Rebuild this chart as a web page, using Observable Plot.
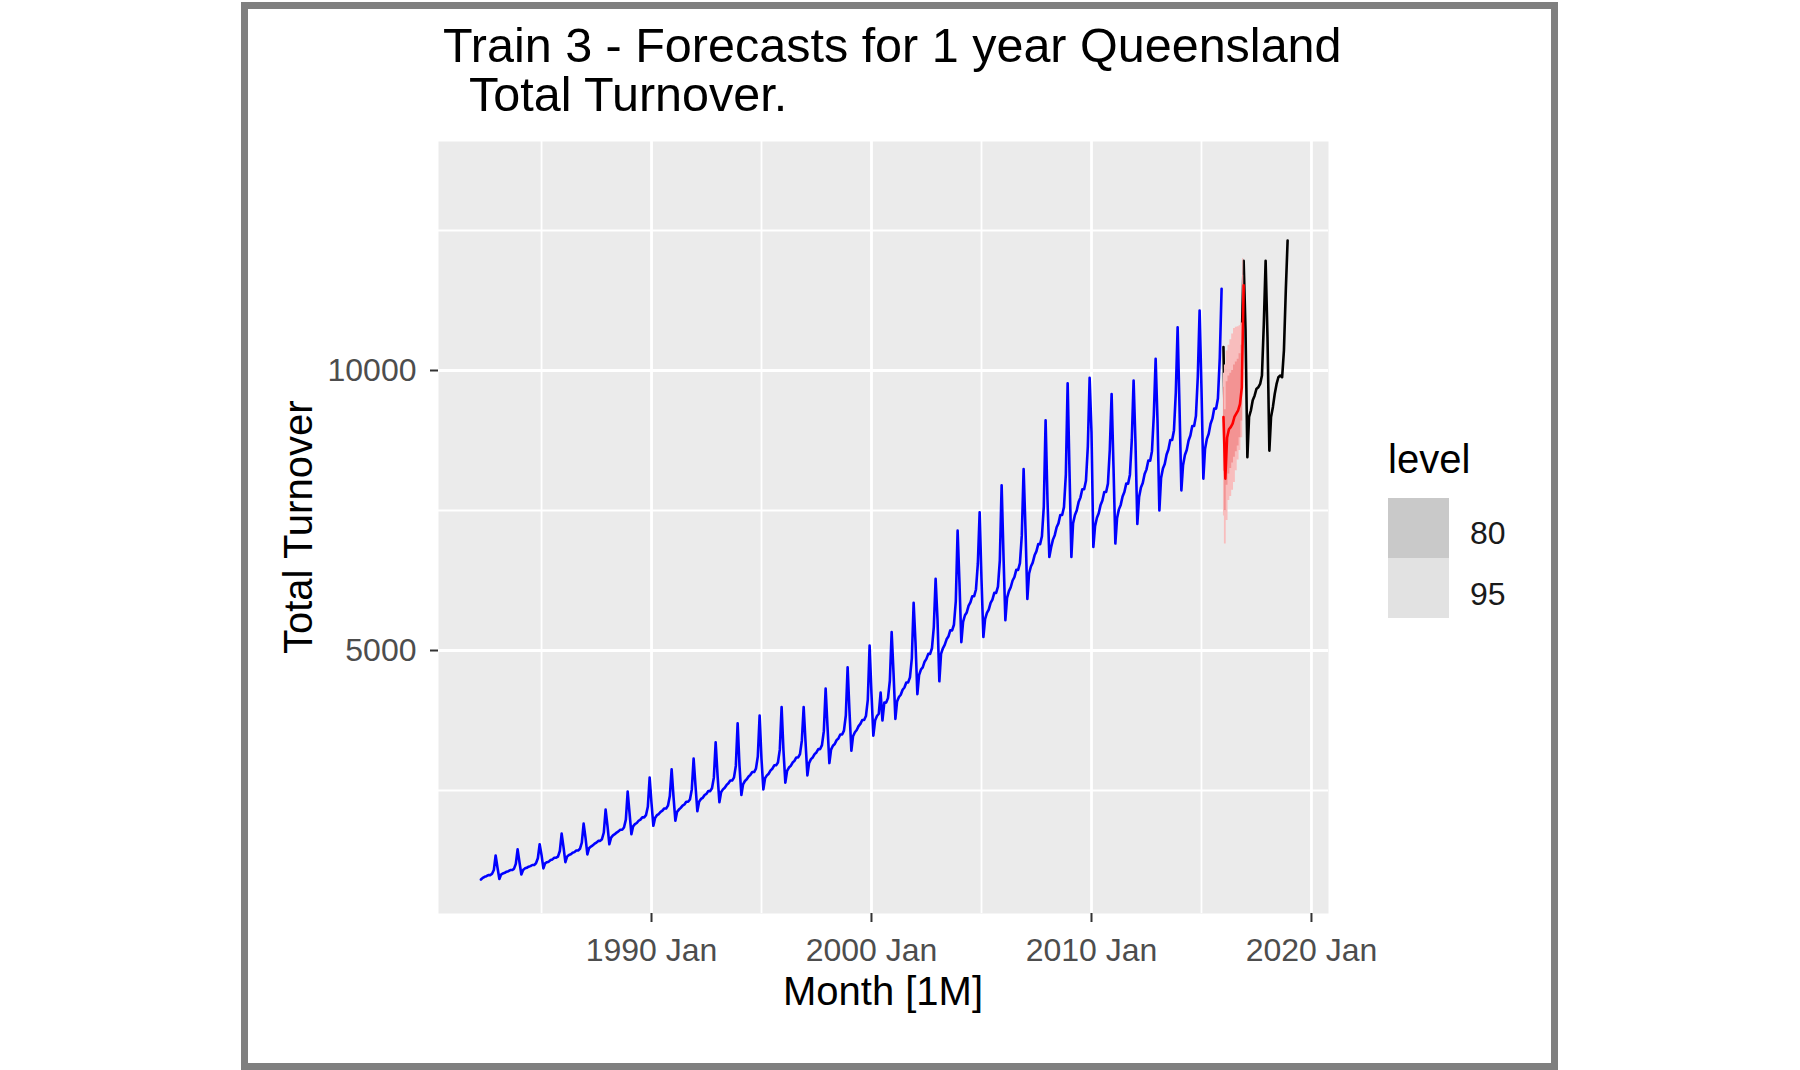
<!DOCTYPE html>
<html>
<head>
<meta charset="utf-8">
<script src="https://cdn.jsdelivr.net/npm/d3@7"></script>
<script src="https://cdn.jsdelivr.net/npm/@observablehq/plot@0.6"></script>
<style>
html, body { margin: 0; padding: 0; background: #ffffff; width: 1800px; height: 1070px; overflow: hidden; font-family: "Liberation Sans", Arial, sans-serif; }
#frame { position: absolute; left: 241px; top: 2px; width: 1317px; height: 1068px; box-sizing: border-box; border: 7px solid #7f7f7f; }
.txt { position: absolute; white-space: pre; color: #000; }
#title { left: 443px; top: 21px; font-size: 48.5px; line-height: 49px; }
#xlab { font-size: 40px; line-height: 40px; }
#ylab { font-size: 40px; line-height: 40px; transform-origin: 0 0; }
#legtitle { font-size: 40px; line-height: 40px; }
.legkey { position: absolute; left: 1388px; width: 61px; height: 60px; }
.leglab { font-size: 32px; line-height: 32px; color: #1a1a1a; }
#chart { position: absolute; left: 250px; top: 125px; }
</style>
</head>
<body>
<div id="frame"></div>
<div id="title" class="txt"></div>
<div id="chart"></div>
<div id="xlab" class="txt"></div>
<div id="ylab" class="txt"></div>
<div id="legtitle" class="txt"></div>
<div id="key80" class="legkey" style="top:498px;background:#c9c9c9"></div>
<div id="key95" class="legkey" style="top:558px;background:#e2e2e2"></div>
<div id="lab80" class="txt leglab"></div>
<div id="lab95" class="txt leglab"></div>
<script>
// ---------------- data ----------------
const titleLines = ["Train 3 - Forecasts for 1 year Queensland", "  Total Turnover."];
const xTitle = "Month [1M]";
const yTitle = "Total Turnover";
const legendTitle = "level";
const levels = ["80", "95"];

// training series (blue), monthly from 1982 Apr to 2015 Dec
const trainStart = [1982, 4];
const trainValues = [
  910, 940, 960, 970, 990, 990, 1010, 1080, 1340,
  1120, 920, 1000, 1020, 1030, 1050, 1060, 1080, 1080, 1100, 1190, 1450,
  1220, 1000, 1080, 1110, 1120, 1140, 1150, 1170, 1170, 1200, 1290, 1540,
  1350, 1110, 1200, 1220, 1230, 1260, 1270, 1300, 1300, 1320, 1420, 1730,
  1490, 1220, 1320, 1350, 1360, 1390, 1400, 1430, 1430, 1460, 1570, 1910,
  1660, 1360, 1470, 1500, 1520, 1550, 1570, 1600, 1600, 1630, 1750, 2160,
  1870, 1540, 1660, 1700, 1720, 1750, 1770, 1800, 1800, 1840, 1980, 2480,
  2100, 1720, 1860, 1900, 1920, 1960, 1980, 2020, 2020, 2060, 2210, 2730,
  2270, 1870, 2010, 2060, 2080, 2120, 2140, 2180, 2180, 2230, 2400, 2880,
  2390, 1960, 2120, 2160, 2190, 2230, 2250, 2300, 2300, 2340, 2520, 3070,
  2590, 2130, 2300, 2350, 2370, 2420, 2440, 2490, 2490, 2540, 2730, 3360,
  2780, 2290, 2470, 2520, 2550, 2600, 2630, 2680, 2680, 2730, 2940, 3700,
  2940, 2420, 2610, 2670, 2700, 2750, 2780, 2830, 2830, 2890, 3110, 3840,
  3060, 2520, 2720, 2770, 2800, 2860, 2890, 2950, 2950, 3000, 3230, 3990,
  3210, 2640, 2850, 2910, 2940, 3000, 3030, 3090, 3090, 3150, 3390, 3990,
  3370, 2770, 2990, 3060, 3090, 3150, 3180, 3240, 3240, 3310, 3560, 4320,
  3640, 2990, 3230, 3300, 3330, 3400, 3430, 3500, 3500, 3570, 3840, 4700,
  3910, 3210, 3470, 3540, 3580, 3650, 3690, 3760, 3760, 3830, 4120, 5090,
  4230, 3480, 3750, 3830, 3870, 4250, 3750, 4070, 4070, 4150, 4460, 5330,
  4600, 3780, 4090, 4170, 4210, 4300, 4340, 4430, 4430, 4520, 4860, 5850,
  5140, 4220, 4560, 4660, 4700, 4800, 4850, 4940, 4940, 5040, 5420, 6280,
  5560, 4450, 4940, 5040, 5100, 5200, 5250, 5360, 5360, 5460, 5880, 7140,
  6210, 5150, 5510, 5630, 5680, 5800, 5860, 5970, 5970, 6090, 6550, 7470,
  6260, 5240, 5560, 5670, 5730, 5850, 5910, 6030, 6030, 6140, 6610, 7950,
  6690, 5540, 5940, 6060, 6130, 6250, 6310, 6440, 6440, 6560, 7060, 8240,
  7170, 5920, 6370, 6500, 6570, 6700, 6770, 6900, 6900, 7040, 7570, 9110,
  7700, 6670, 6840, 6980, 7060, 7200, 7270, 7420, 7420, 7560, 8140, 9770,
  8190, 6670, 7270, 7420, 7500, 7650, 7730, 7880, 7880, 8030, 8640, 9870,
  8900, 6850, 7220, 7370, 7450, 7600, 7680, 7830, 7830, 7980, 8590, 9580,
  8290, 6910, 7360, 7520, 7600, 7750, 7830, 7980, 7980, 8140, 8760, 9820,
  8720, 7260, 7740, 7910, 7990, 8150, 8230, 8390, 8390, 8560, 9210, 10210,
  9100, 7500, 8080, 8250, 8330, 8500, 8590, 8760, 8760, 8930, 9610, 10770,
  9360, 7860, 8310, 8490, 8580, 8750, 8840, 9010, 9010, 9190, 9890, 11070,
  9680, 8070, 8600, 8780, 8870, 9050, 9140, 9320, 9320, 9500, 10230, 11460
];

// test series (black), monthly from 2016 Jan to 2018 Dec
const testStart = [2016, 1];
const testValues = [
  10420, 8350, 8840, 9020, 9110, 9300, 9390, 9580, 9580, 9770, 10600, 11960,
  10740, 8450, 9170, 9290, 9470, 9550, 9670, 9700, 9760, 9910, 10830, 11960,
  10600, 8570, 9170, 9350, 9580, 9760, 9880, 9910, 9880, 10360, 11430, 12320
];

// 1-year forecast (red), monthly from 2016 Jan
const fcStart = [2016, 1];
const fcMean = [9170, 8070, 8800, 8950, 8990, 9050, 9170, 9230, 9290, 9400, 9700, 11520];
const fcLo80 = [8200, 7500, 7950, 8150, 8250, 8350, 8450, 8550, 8650, 8800, 9100, 10800];
const fcHi80 = [9700, 9300, 9800, 9900, 9950, 10000, 10100, 10150, 10200, 10300, 10450, 11700];
const fcLo95 = [7400, 6900, 7320, 7680, 7750, 7860, 8000, 8210, 8400, 8570, 8800, 10300];
const fcHi95 = [9950, 10100, 10350, 10450, 10550, 10650, 10750, 10770, 10780, 10800, 10850, 12000];

// axis ticks
const xMajorYears = [1990, 2000, 2010, 2020];
const xMinorYears = [1985, 1995, 2005, 2015];
const yMajor = [5000, 10000];
const yMinor = [2500, 7500, 12500];

// ---------------- build ----------------
const monthDate = (start, i) => new Date(Date.UTC(start[0], start[1] - 1 + i, 1));
const train = trainValues.map((v, i) => ({date: monthDate(trainStart, i), value: v}));
const test = testValues.map((v, i) => ({date: monthDate(testStart, i), value: v}));
const fc = fcMean.map((v, i) => ({date: monthDate(fcStart, i), mean: v, lo80: fcLo80[i], hi80: fcHi80[i], lo95: fcLo95[i], hi95: fcHi95[i]}));
const yearDate = y => new Date(Date.UTC(y, 0, 1));
const decYear = y => { const y0 = Math.floor(y); const a = Date.UTC(y0, 0, 1), b = Date.UTC(y0 + 1, 0, 1); return new Date(a + (y - y0) * (b - a)); };

const chart = Plot.plot({
  width: 1090,
  height: 875,
  marginLeft: 188,
  marginTop: 16,
  marginRight: 12,
  marginBottom: 87,
  style: {fontFamily: '"Liberation Sans", Arial, sans-serif', background: "transparent", overflow: "visible"},
  x: {type: "utc", domain: [decYear(1980.318), decYear(2020.773)]},
  y: {domain: [304, 14089]},
  marks: [
    Plot.frame({fill: "#ebebeb", stroke: "none"}),
    Plot.ruleY(yMinor, {stroke: "#ffffff", strokeWidth: 1.8}),
    Plot.ruleX(xMinorYears.map(yearDate), {stroke: "#ffffff", strokeWidth: 1.8}),
    Plot.ruleY(yMajor, {stroke: "#ffffff", strokeWidth: 2.8}),
    Plot.ruleX(xMajorYears.map(yearDate), {stroke: "#ffffff", strokeWidth: 2.8}),
    Plot.lineY(train, {x: "date", y: "value", stroke: "#0000ff", strokeWidth: 2.6}),
    Plot.lineY(test, {x: "date", y: "value", stroke: "#000000", strokeWidth: 2.6}),
    Plot.areaY(fc, {x: "date", y1: "lo95", y2: "hi95", fill: "#f8bdbd", curve: "step"}),
    Plot.areaY(fc, {x: "date", y1: "lo80", y2: "hi80", fill: "#f39393", curve: "step"}),
    Plot.lineY(fc, {x: "date", y: "mean", stroke: "#ff0000", strokeWidth: 2.6}),
    Plot.axisX(xMajorYears.map(yearDate), {
      tickSize: 9, tickPadding: 16, strokeWidth: 2, stroke: "#333333", fill: "#4d4d4d",
      fontSize: 32, label: null, tickFormat: d => `${d.getUTCFullYear()} Jan`
    }),
    Plot.axisY(yMajor, {
      tickSize: 8, tickPadding: 14, strokeWidth: 2, stroke: "#333333", fill: "#4d4d4d",
      fontSize: 32, label: null, tickFormat: d => String(d)
    })
  ]
});
document.getElementById("chart").appendChild(chart);

// titles and legend
const title = document.getElementById("title");
title.textContent = titleLines.join("\n");

function placeText(id, text, x, baseline, anchor, fontPx) {
  const el = document.getElementById(id);
  el.textContent = text;
  const lh = fontPx; // line-height equals font size
  // baseline offset inside line box for Liberation Sans (ascent .905, descent .212)
  const base = (lh - 1.117 * fontPx) / 2 + 0.905 * fontPx;
  el.style.top = (baseline - base) + "px";
  const w = el.getBoundingClientRect().width;
  el.style.left = (anchor === "middle" ? x - w / 2 : x) + "px";
}
placeText("xlab", xTitle, 883, 1005, "middle", 40);
placeText("legtitle", legendTitle, 1388, 473, "start", 40);
placeText("lab80", levels[0], 1470, 544, "start", 32);
placeText("lab95", levels[1], 1470, 605, "start", 32);

// rotated y label: baseline at x = 312, centred at y = 527
const yl = document.getElementById("ylab");
yl.textContent = yTitle;
const ylw = yl.getBoundingClientRect().width;
const ylBase = (40 - 1.117 * 40) / 2 + 0.905 * 40;
yl.style.left = (312 - ylBase) + "px";
yl.style.top = (527 + ylw / 2) + "px";
yl.style.transform = "rotate(-90deg)";
</script>
</body>
</html>
